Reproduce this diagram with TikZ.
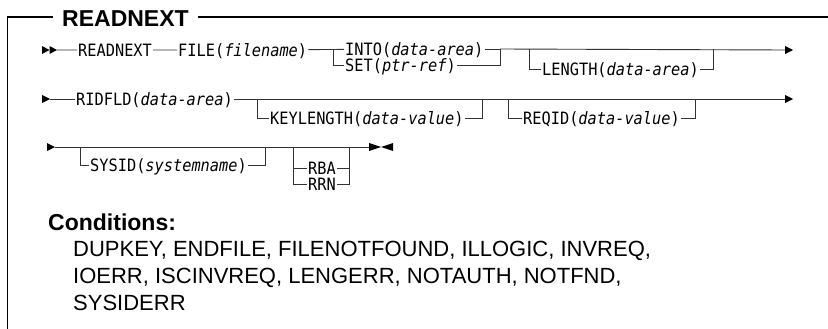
\documentclass[tikz,border=0pt]{standalone}
\usepackage{fontspec}
\setmainfont{Liberation Sans}
\newfontfamily\synfont[FakeStretch=0.9]{DejaVu Sans Mono}
\usetikzlibrary{positioning}

\tikzset{
  kw/.style={font=\synfont\fontsize{17}{20}\selectfont, inner xsep=1pt,
    inner ysep=0pt, text height=12.4pt, text depth=0pt, anchor=west},
  head/.style={font=\fontsize{23}{27}\selectfont\bfseries, inner xsep=9pt,
    inner ysep=0pt, anchor=base west},
  cond/.style={font=\fontsize{22}{27}\selectfont, inner sep=0pt, anchor=base west},
  rail/.style={draw=black!80, line width=0.9pt},
  frame/.style={draw=black, line width=1.2pt},
}

\begin{document}
\begin{tikzpicture}[x=1pt, y=-1pt]
  \useasboundingbox (0,0) rectangle (828,329);

  % frame with title
  \coordinate (frameTL) at (7.5,17);
  \node[head] (title) at (53,27) {READNEXT};
  \draw[frame] (frameTL -| title.west) -- (frameTL) -- (7.5,329);
  \draw[frame] (frameTL -| title.east) -- (828,17);

  % row 1
  \coordinate (r1s) at (57,50);
  \coordinate (r1e) at (793,50);
  \node[kw] (readnext) at (77,50)  {READNEXT};
  \node[kw] (file)     at (177,50) {FILE(\textit{filename})};
  \node[kw] (into)     at (344,49) {INTO(\textit{data-area})};
  \node[kw] (set)      at (344,65) {SET(\textit{ptr-ref})};
  \node[kw] (length)   at (541,69) {LENGTH(\textit{data-area})};
  \coordinate (j1) at (333,49);
  \coordinate (j2) at (500,49);
  \coordinate (j3) at (529,49);
  \coordinate (j4) at (713,49);
  \draw[rail] (r1s) -- (readnext) -- (file) -- (into);
  \draw[rail] (j1) |- (set.west);
  \draw[rail] (into) -- (j2);
  \draw[rail] (set.east) -| (j2);
  \draw[rail] (j2) -- ([xshift=-7]r1e);
  \draw[rail] (j3) |- (length.west);
  \draw[rail] (length.east) -| (j4);
  \fill (r1s) ++(-15,-4) -- ++(7.5,4) -- ++(-7.5,4) -- cycle;
  \fill (r1s) ++(-7.5,-4) -- ++(7.5,4) -- ++(-7.5,4) -- cycle;
  \fill (r1e) ++(-8,-4) -- ++(8,4) -- ++(-8,4) -- cycle;

  % row 2
  \coordinate (r2s) at (50,99);
  \coordinate (r2e) at (793,99);
  \node[kw] (ridfld)    at (75,99)   {RIDFLD(\textit{data-area})};
  \node[kw] (keylength) at (269,118) {KEYLENGTH(\textit{data-value})};
  \node[kw] (reqid)     at (522,118) {REQID(\textit{data-value})};
  \coordinate (j5) at (257,99);
  \coordinate (j6) at (482,99);
  \coordinate (j7) at (508,99);
  \coordinate (j8) at (695,99);
  \draw[rail] (r2s) -- (ridfld) -- ([xshift=-7]r2e);
  \draw[rail] (j5) |- (keylength.west);
  \draw[rail] (keylength.east) -| (j6);
  \draw[rail] (j7) |- (reqid.west);
  \draw[rail] (reqid.east) -| (j8);
  \fill (r2s) ++(-8,-4) -- ++(8,4) -- ++(-8,4) -- cycle;
  \fill (r2e) ++(-8,-4) -- ++(8,4) -- ++(-8,4) -- cycle;

  % row 3
  \coordinate (r3s) at (55,147);
  \coordinate (r3e) at (369,147);
  \node[kw] (sysid) at (89,165)  {SYSID(\textit{systemname})};
  \node[kw] (rba)   at (307,168) {RBA};
  \node[kw] (rrn)   at (307,184) {RRN};
  \coordinate (j9)  at (80,147);
  \coordinate (j10) at (265,147);
  \coordinate (j11) at (293,147);
  \coordinate (j12) at (349,147);
  \draw[rail] (r3s) -- (r3e);
  \draw[rail] (j9) |- (sysid.west);
  \draw[rail] (sysid.east) -| (j10);
  \draw[rail] (j11) |- (rrn.west);
  \draw[rail] (j11 |- rba.west) -- (rba.west);
  \draw[rail] (rba.east) -- (rba.east -| j12);
  \draw[rail] (rrn.east) -| (j12);
  \fill (r3s) ++(-8,-4) -- ++(8,4) -- ++(-8,4) -- cycle;
  \fill (r3e) ++(0,-4) -- ++(12,4) -- ++(-12,4) -- cycle;
  \fill (r3e) ++(24,-4) -- ++(-12,4) -- ++(12,4) -- cycle;

  % conditions
  \node[head, inner xsep=0pt] (condhead) at (48,230) {Conditions:};
  \node[cond] (condA) at (73,256) {DUPKEY, ENDFILE, FILENOTFOUND, ILLOGIC, INVREQ,};
  \node[cond] (condB) at (73,283) {IOERR, ISCINVREQ, LENGERR, NOTAUTH, NOTFND,};
  \node[cond] (condC) at (73,310) {SYSIDERR};

\end{tikzpicture}
\end{document}
